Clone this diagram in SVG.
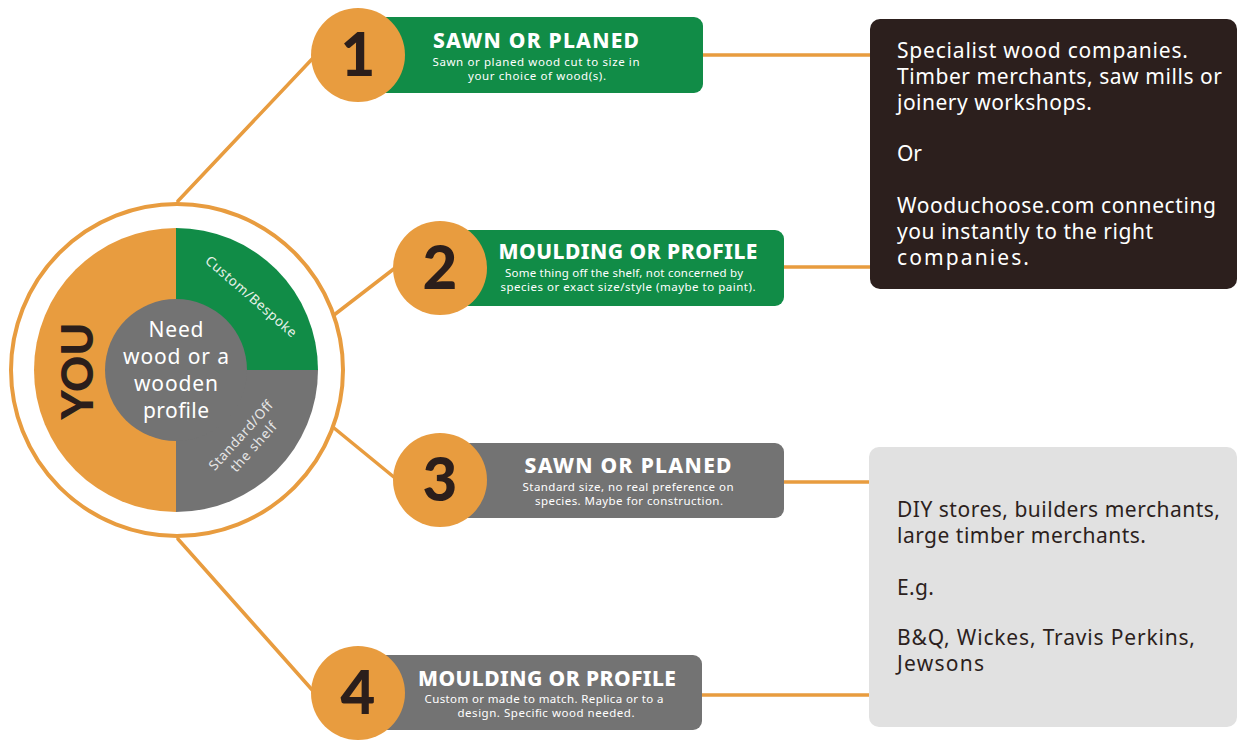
<svg xmlns="http://www.w3.org/2000/svg" width="1244" height="741" viewBox="0 0 1244 741">
<style>
.conn{stroke:#E89C3F;stroke-width:3.5;fill:none;stroke-linecap:round}
.num{fill:#E89C3F}
.numt{font-family:Lato,"Noto Sans",sans-serif;font-weight:900;font-size:60px;fill:#2B1E1B;text-anchor:middle}
.title{font-family:"Noto Sans",Lato,sans-serif;font-weight:800;font-size:21px;fill:#fff;text-anchor:middle}
.sub{font-family:"Noto Sans",Lato,sans-serif;font-size:11.5px;fill:#fff;text-anchor:middle}
.big{font-family:"Noto Sans",Lato,sans-serif;font-size:21px}
</style>
<rect width="1244" height="741" fill="#fff"/>
<g id="connectors">
<line class="conn" x1="178" y1="201" x2="314" y2="57"/>
<line class="conn" x1="334" y1="315" x2="395" y2="268"/>
<line class="conn" x1="334" y1="428" x2="395" y2="478"/>
<line class="conn" x1="178" y1="539" x2="314" y2="692"/>
<line class="conn" x1="703" y1="55" x2="870" y2="55"/>
<line class="conn" x1="784" y1="267" x2="870" y2="267"/>
<line class="conn" x1="784" y1="482" x2="870" y2="482"/>
<line class="conn" x1="702" y1="695" x2="870" y2="695"/>
</g>
<g id="you">
<circle cx="177" cy="370" r="166" fill="#fff" stroke="#E89C3F" stroke-width="4"/>
<path d="M176 228 A142 142 0 0 0 176 512 Z" fill="#E89C3F"/>
<path d="M176 228 A142 142 0 0 1 318 370 L176 370 Z" fill="#118C47"/>
<path d="M318 370 A142 142 0 0 1 176 512 L176 370 Z" fill="#737373"/>
<circle cx="176" cy="370" r="71" fill="#737373"/>
<text x="93" y="371" transform="rotate(-90 93 371)" text-anchor="middle" font-family="Lato,'Noto Sans',sans-serif" font-weight="900" font-size="44" fill="#2B1E1B" textLength="97" lengthAdjust="spacingAndGlyphs">YOU</text>
<g font-family="'Noto Sans',Lato,sans-serif" font-size="21" fill="#fff" text-anchor="middle">
<text x="176" y="337" textLength="55">Need</text>
<text x="176" y="364" textLength="106">wood or a</text>
<text x="176" y="391" textLength="84">wooden</text>
<text x="176" y="418" textLength="66">profile</text>
</g>
<text x="248" y="300" transform="rotate(41 248 300)" text-anchor="middle" font-family="'Noto Sans',Lato,sans-serif" font-size="13.5" fill="#e8f2ea" textLength="116">Custom/Bespoke</text>
<g transform="rotate(-48 248 442)" font-family="'Noto Sans',Lato,sans-serif" font-size="13.5" fill="#e6e6e6" text-anchor="middle">
<text x="248" y="437" textLength="88">Standard/Off</text>
<text x="248" y="454" textLength="62">the shelf</text>
</g>
</g>
<g id="node1">
<rect x="370" y="17" width="333" height="76" rx="9" fill="#118C47"/>
<circle class="num" cx="358" cy="55" r="47"/>
<text class="numt" x="358" y="76">1</text>
<text class="title" x="536" y="48" textLength="206">SAWN OR PLANED</text>
<text class="sub" x="536" y="66" textLength="207">Sawn or planed wood cut to size in</text>
<text class="sub" x="537" y="80" textLength="138">your choice of wood(s).</text>
</g>
<g id="node2">
<rect x="452" y="230" width="332" height="76" rx="9" fill="#118C47"/>
<circle class="num" cx="440" cy="268" r="47"/>
<text class="numt" x="440" y="289">2</text>
<text class="title" x="628" y="259" textLength="259">MOULDING OR PROFILE</text>
<text class="sub" x="624" y="277" textLength="238">Some thing off the shelf, not concerned by</text>
<text class="sub" x="628" y="291" textLength="255">species or exact size/style (maybe to paint).</text>
</g>
<g id="node3">
<rect x="452" y="443" width="332" height="75" rx="9" fill="#737373"/>
<circle class="num" cx="440" cy="480" r="47"/>
<text class="numt" x="440" y="501">3</text>
<text class="title" x="628" y="473" textLength="207">SAWN OR PLANED</text>
<text class="sub" x="628" y="491" textLength="211">Standard size, no real preference on</text>
<text class="sub" x="629" y="505" textLength="188">species. Maybe for construction.</text>
</g>
<g id="node4">
<rect x="370" y="655" width="332" height="75" rx="9" fill="#737373"/>
<circle class="num" cx="358" cy="693" r="47"/>
<text class="numt" x="358" y="714">4</text>
<text class="title" x="547" y="686" textLength="258">MOULDING OR PROFILE</text>
<text class="sub" x="544" y="703" textLength="239">Custom or made to match. Replica or to a</text>
<text class="sub" x="546" y="717" textLength="177">design. Specific wood needed.</text>
</g>
<g id="specialist">
<rect x="870" y="19" width="367" height="270" rx="10" fill="#2C1F1D"/>
<g class="big" fill="#fff">
<text x="897" y="58" textLength="291">Specialist wood companies.</text>
<text x="897" y="84" textLength="325">Timber merchants, saw mills or</text>
<text x="897" y="110" textLength="195">joinery workshops.</text>
<text x="897" y="161" textLength="25">Or</text>
<text x="897" y="213" textLength="319">Wooduchoose.com connecting</text>
<text x="897" y="239" textLength="256">you instantly to the right</text>
<text x="897" y="265" textLength="132">companies.</text>
</g>
</g>
<g id="diy">
<rect x="869" y="447" width="368" height="280" rx="10" fill="#E1E1E1"/>
<g class="big" fill="#2C1F1D">
<text x="897" y="517" textLength="323">DIY stores, builders merchants,</text>
<text x="897" y="543" textLength="249">large timber merchants.</text>
<text x="897" y="595" textLength="37">E.g.</text>
<text x="897" y="645" textLength="298">B&amp;Q, Wickes, Travis Perkins,</text>
<text x="897" y="671" textLength="87">Jewsons</text>
</g>
</g>
</svg>
